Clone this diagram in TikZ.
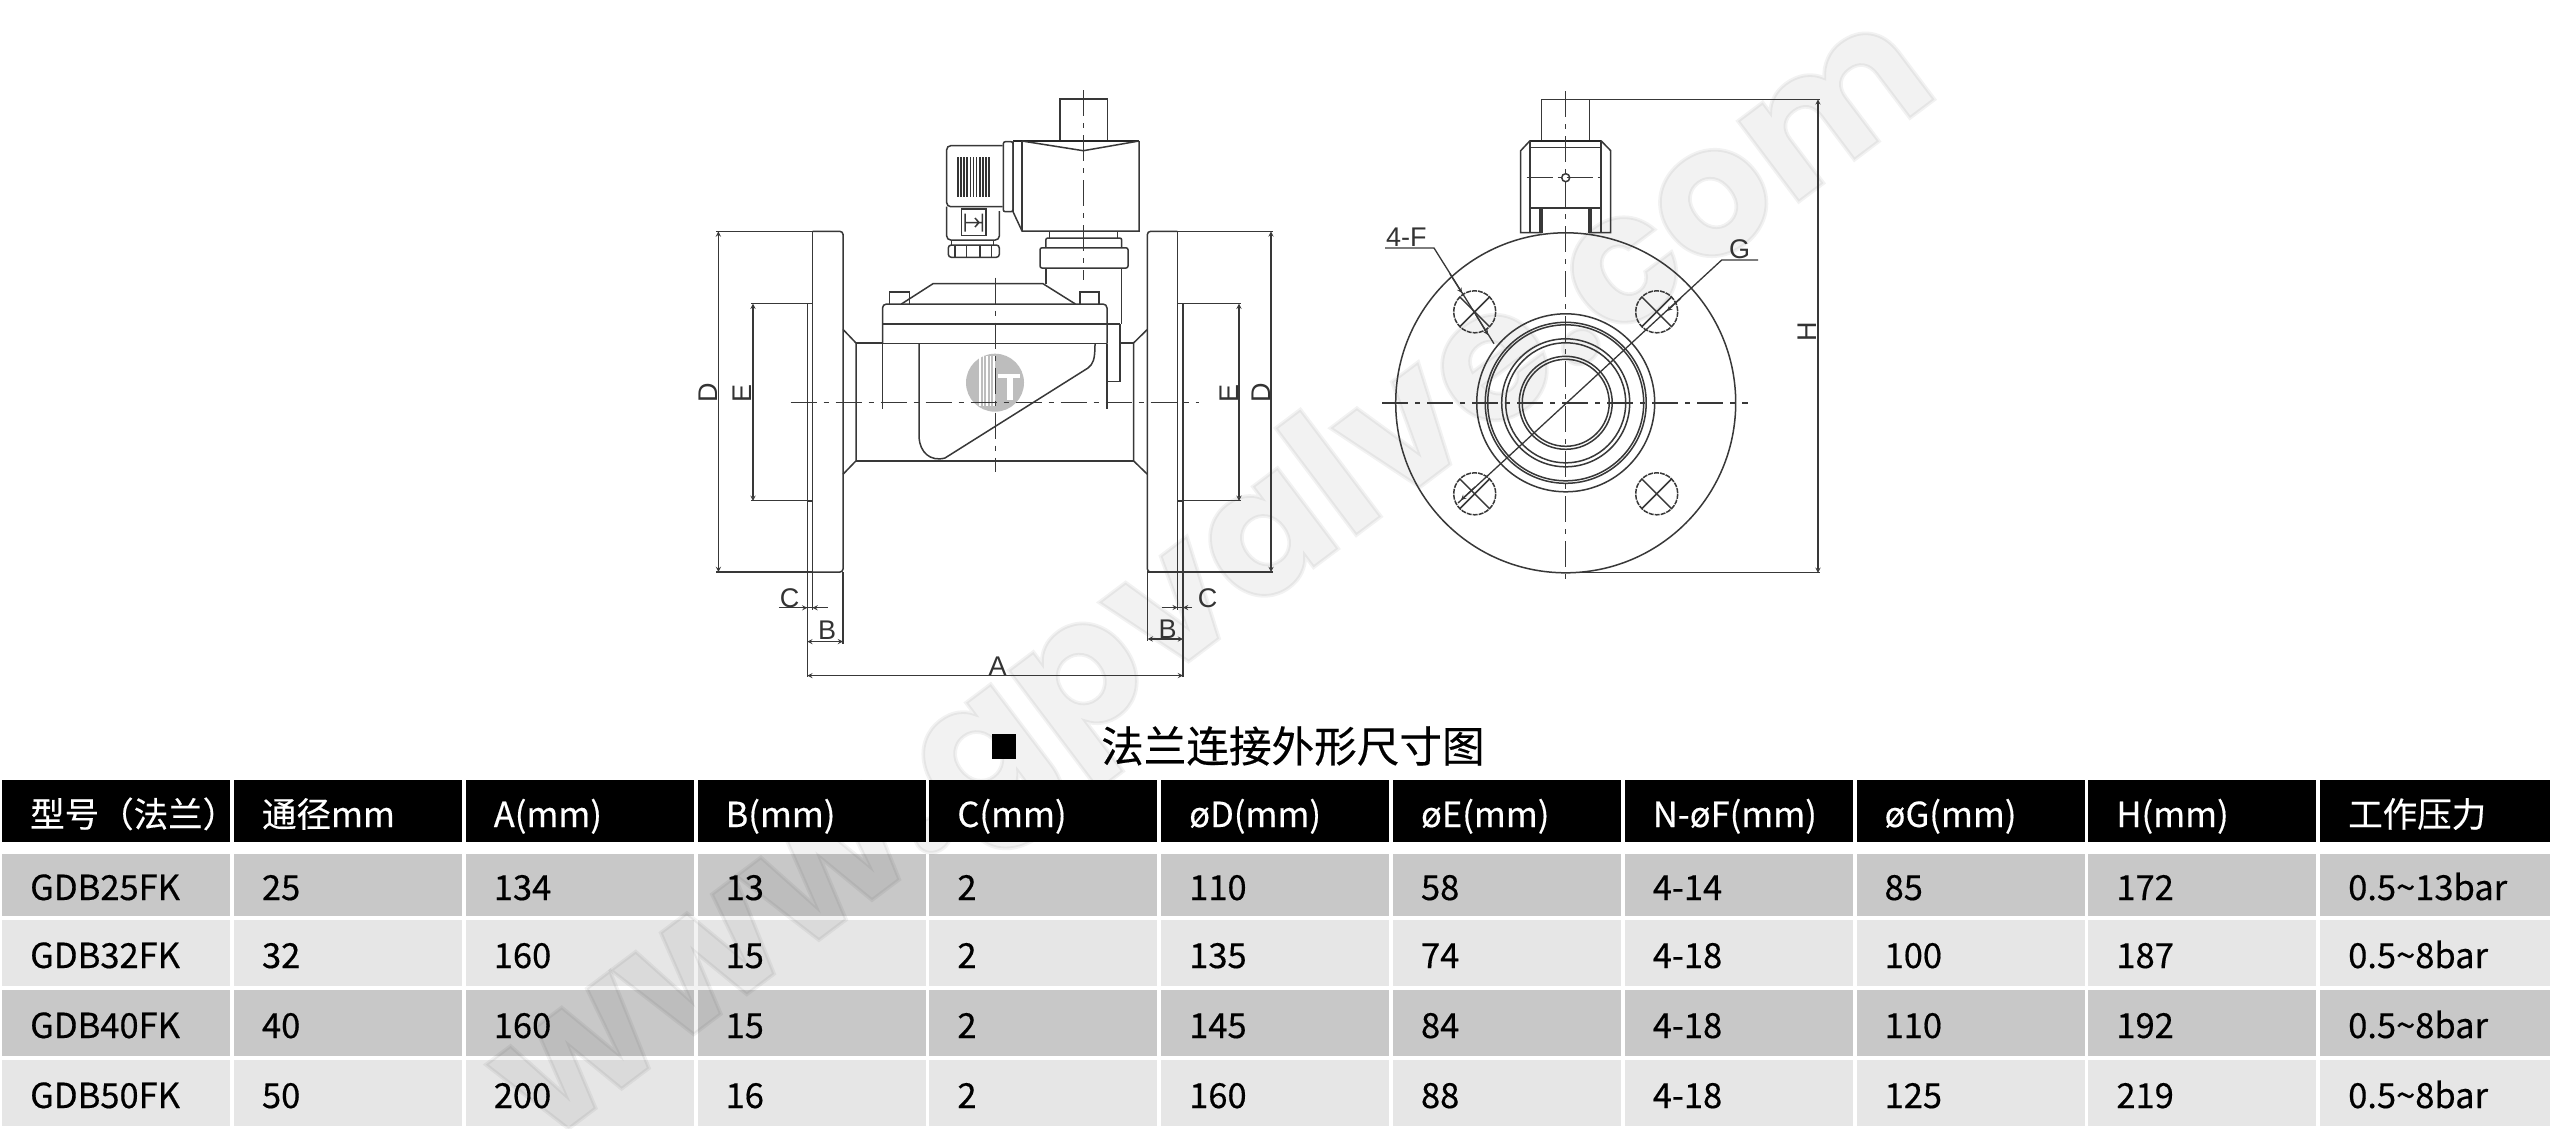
\documentclass[tikz,border=0pt]{standalone}
\usepackage{fontspec}
\setmainfont{Noto Sans CJK SC}
\newfontfamily\cellfont[FakeBold=0.4]{Noto Sans CJK SC}
\newfontfamily\drawfont{Liberation Sans}
\newfontfamily\markfont{Poppins}[BoldFont={* Bold}, BoldFeatures={FakeBold=2}]
\usetikzlibrary{arrows,positioning}

\definecolor{rowdark}{HTML}{C8C8C8}
\definecolor{rowlight}{HTML}{E6E6E6}
\definecolor{logogray}{HTML}{BDBDBD}

\tikzset{
  part/.style={draw=black!78, line width=1.5pt},
  thick part/.style={draw=black!85, line width=2pt},
  axis/.style={draw=black!78, line width=1.4pt, dash pattern=on 26pt off 7pt on 5pt off 7pt},
  dimline/.style={draw=black!78, line width=1.3pt},
  dimlabel/.style={font=\drawfont\fontsize{27}{27}\selectfont, text=black!80, inner sep=0pt},
  cell/.style={minimum height=#1, minimum width=228pt, inner sep=0pt, anchor=west},
  celltext/.style={font=\cellfont\fontsize{34.5}{34.5}\selectfont, inner sep=0pt, anchor=west, text height=24pt, text depth=0pt}
}

\begin{document}
\begin{tikzpicture}[x=1pt, y=-1pt, >=stealth]
\useasboundingbox (0,0) rectangle (2550,1128);
\fill [white] (0,0) rectangle (2550,1128);

% table cells
\foreach \r/\cy/\ch/\cf in {0/811/62/black, 1/885/62/rowdark, 2/953/66/rowlight, 3/1023/66/rowdark, 4/1093/66/rowlight}
  \foreach \c in {0,...,10} {
    \pgfmathsetmacro\cx{2+231.8*\c}
    \node [cell=\ch pt, fill=\cf] (cell-\r-\c) at (\cx,\cy) {};
  }
\fill [rowdark] (cell-1-10.north east) rectangle ++(4,62);
\fill [rowlight] (cell-2-10.north east) rectangle ++(4,66);
\fill [rowdark] (cell-3-10.north east) rectangle ++(4,66);
\fill [rowlight] (cell-4-10.north east) rectangle ++(4,66);
\fill [black] (cell-0-10.north east) rectangle ++(4,62);

% watermark
\node [font=\markfont\bfseries\fontsize{181}{181}\selectfont, text=black, opacity=.05, rotate=37, anchor=base east, inner sep=0pt] (mark) at (1943,93) {www.gpvalve.com};

% table text
\foreach \c/\t in {0/型号（法兰）, 1/通径mm, 2/A(mm), 3/B(mm), 4/C(mm), 5/øD(mm), 6/øE(mm), 7/N-øF(mm), 8/øG(mm), 9/H(mm), 10/工作压力}
  \node [celltext, text=white] (head-\c) at ([xshift=28pt, yshift=-4pt]cell-0-\c.west) {\t};

\foreach \r/\vals in {
  1/{GDB25FK,25,134,13,2,110,58,4-14,85,172,0.5\textasciitilde 13bar},
  2/{GDB32FK,32,160,15,2,135,74,4-18,100,187,0.5\textasciitilde 8bar},
  3/{GDB40FK,40,160,15,2,145,84,4-18,110,192,0.5\textasciitilde 8bar},
  4/{GDB50FK,50,200,16,2,160,88,4-18,125,219,0.5\textasciitilde 8bar}}
  \foreach \v [count=\c from 0] in \vals
    \node [celltext] (val-\r-\c) at ([xshift=28pt, yshift=-3pt]cell-\r-\c.west) {\v};

% title
\node [fill=black, minimum size=24.5pt, inner sep=0pt] (bullet) at (1003.8,746.6) {};
\node [anchor=west, inner sep=0pt, font=\cellfont\fontsize{42.6}{43}\selectfont] (title) at (1101,746) {法兰连接外形尺寸图};

% logo
\fill [logogray] (995,382.7) circle [radius=29];
\foreach \x in {979,982.5,986,989.5,993}
  \fill [white] (\x,356) rectangle ++(1.6,50);
\fill [white] (998,374) rectangle ++(22,4);
\fill [white] (1007,378) rectangle ++(6,22);

% left view: flanges
\draw [part, rounded corners=3pt] (812.5,231.4) -- (843,231.4) -- (843,572) -- (812.5,572);
\draw [part] (812.5,231.4) -- (812.5,572);
\draw [part] (812.5,303.7) -- (807.3,303.7) -- (807.3,500.8) -- (812.5,500.8);
\draw [part, rounded corners=3pt] (1177.4,231.4) -- (1147.4,231.4) -- (1147.4,572) -- (1177.4,572);
\draw [part] (1177.4,231.4) -- (1177.4,572);
\draw [part] (1177.4,303.7) -- (1183,303.7) -- (1183,500.8) -- (1177.4,500.8);

% pipe
\draw [part] (843,329.4) -- (856,343) -- (856,460.8) -- (843,474.3);
\draw [part] (1147.4,329.4) -- (1133.5,343) -- (1133.5,460.8) -- (1147.4,474.3);
\draw [part] (856,343) -- (882.5,343) (1120,343) -- (1133.5,343) (856,460.8) -- (1133.5,460.8);

% cover
\draw [part, rounded corners=4pt] (882.5,343.7) -- (882.5,304) -- (1107,304) -- (1107,343.7);
\draw [part] (882.5,324) -- (1120,324) (882.5,343.7) -- (1107,343.7);
\draw [part] (882.5,343.7) -- (882.5,409) (1107,343.7) -- (1107,409);
\draw [part] (901.4,304) -- (933,283.7) -- (1043,283.7) -- (1075.4,304);
\draw [part] (889.6,304) -- (889.6,291.8) -- (909.3,291.8) -- (909.3,304);
\draw [part] (1080,304) -- (1080,291.8) -- (1099,291.8) -- (1099,304);
\draw [part] (1107,381.6) -- (1120,381.6) -- (1120,324);
\draw [part] (919,343.7) -- (919,437.5) .. controls (920,452) and (930,462) .. (945,458) -- (1088,368) .. controls (1093,364) and (1095,360) .. (1095,343.7);

% neck and nut
\draw [part] (1045.8,283.7) -- (1045.8,268) (1121.7,268) -- (1121.7,324);
\draw [part, rounded corners=2pt] (1040,247.8) rectangle (1128,268);
\draw [part, rounded corners=2pt] (1045.8,247.8) -- (1045.8,238) -- (1121.7,238) -- (1121.7,247.8);
\draw [part, rounded corners=2pt] (1049.7,238) -- (1049.7,231) (1117.7,231) -- (1117.7,238);

% coil
\draw [part] (1060,141) -- (1060,99) -- (1107.7,99) -- (1107.7,141);
\draw [thick part] (1013,141) -- (1139,141);
\draw [part] (1013,141) -- (1013,211.7) -- (1022,231) -- (1139,231) -- (1139,141);
\draw [part] (1022,141) -- (1022,231);
\draw [part] (1022,141) -- (1083.3,150.7) -- (1139,141);

% connector
\draw [part, rounded corners=2pt] (1003.3,141.7) rectangle (1013,211.7);
\draw [part, rounded corners=4pt] (1002.7,145.7) -- (946.7,145.7) -- (946.7,206.7) -- (1002.7,206.7);
\draw [part, rounded corners=4pt] (946.7,206.7) -- (946.7,240) -- (999.3,240) -- (999.3,211);
\foreach \x in {958,961,964,967,970.5,973.5,976.5,980,983,986,989}
  \draw [draw=black!80, line width=1.7pt] (\x,157.3) -- (\x,196.7);
\draw [part] (961.7,209) rectangle (986,235.7);
\draw [part] (965,213.5) -- (965,231.5) (982.3,213.5) -- (982.3,231.5) (965,222.5) -- (982.3,222.5) (975,218) -- (979,222.5) -- (975,227);
\draw [part] (951.7,240) -- (951.7,245) (993.3,240) -- (993.3,245);
\draw [part, rounded corners=3pt] (948.3,245) rectangle (999.3,257.3);
\foreach \x in {955,966.7,980,991.7}
  \draw [part] (\x,245) -- (\x,257.3);

% left view: axes
\draw [axis] (790.7,402.4) -- (1198.8,402.4);
\draw [axis] (995.5,277.5) -- (995.5,472);
\draw [axis] (1083.3,90) -- (1083.3,280);

% left view: dimensions
\draw [dimline] (716,231.4) -- (812.5,231.4) (716,572) -- (812.5,572);
\draw [dimline, <->] (718.4,231.4) -- (718.4,572);
\node [dimlabel, rotate=90] (label-d1) at (708.5,393) {D};
\draw [dimline] (751,303.7) -- (807.3,303.7) (751,500.8) -- (807.3,500.8);
\draw [dimline, <->] (753,303.7) -- (753,500.8);
\node [dimlabel, rotate=90] (label-e1) at (742.5,393) {E};
\draw [dimline] (1177.4,231.4) -- (1273,231.4) (1147.4,572) -- (1273,572);
\draw [dimline, <->] (1271,231.4) -- (1271,572);
\node [dimlabel, rotate=90] (label-d2) at (1261,393) {D};
\draw [dimline] (1183,303.7) -- (1241,303.7) (1183,500.8) -- (1241,500.8);
\draw [dimline, <->] (1239,303.7) -- (1239,500.8);
\node [dimlabel, rotate=90] (label-e2) at (1229.6,393) {E};

\draw [dimline] (807.3,500.8) -- (807.3,677) (812.5,572) -- (812.5,610) (843,572) -- (843,644);
\draw [dimline] (1183,483) -- (1183,677) (1177.7,572) -- (1177.7,610) (1147.7,572) -- (1147.7,641);
\draw [dimline] (778.9,607.8) -- (828,607.8);
\draw [dimline, ->] (798,607.8) -- (807.3,607.8);
\draw [dimline, ->] (822,607.8) -- (812.5,607.8);
\node [dimlabel] (label-c1) at (789.5,598) {C};
\draw [dimline, <->] (807.3,641.6) -- (843,641.6);
\node [dimlabel] (label-b1) at (827,630) {B};
\draw [dimline] (1161.7,607.5) -- (1191.7,607.5);
\draw [dimline, ->] (1168,607.5) -- (1177.7,607.5);
\draw [dimline, ->] (1192,607.5) -- (1183,607.5);
\node [dimlabel] (label-c2) at (1207.7,598) {C};
\draw [dimline, <->] (1147.7,639) -- (1183,639);
\node [dimlabel] (label-b2) at (1167.7,629) {B};
\draw [dimline, <->] (807.3,675.6) -- (1183,675.6);
\node [dimlabel] (label-a) at (997.6,666) {A};

% right view: flange
\coordinate (hub) at (1565.7,402.8);
\draw [part] (hub) circle [radius=170];
\foreach \s/\t in {-1/-1, 1/-1, -1/1, 1/1} {
  \draw [part, dash pattern=on 5pt off 1pt] ([xshift=\s*91pt, yshift=\t*91pt]hub) circle [radius=21];
  \draw [part] ([xshift=\s*91pt-15pt, yshift=\t*91pt-15pt]hub) -- ++(30,-30)
     ([xshift=\s*91pt-15pt, yshift=\t*91pt+15pt]hub) -- ++(30,30);
}
\foreach \r in {89,80.5,78,64,60,46.5,43.5}
  \draw [part] (hub) circle [radius=\r];

% right view: top piece
\draw [part] (1541.7,140.7) -- (1541.7,99.3) -- (1589.3,99.3) -- (1589.3,140.7);
\draw [thick part] (1530,140.7) -- (1601,140.7);
\draw [part] (1530,147.3) -- (1601,147.3) (1530,208) -- (1601,208);
\draw [part] (1530,140.7) -- (1530,232) (1601,140.7) -- (1601,232);
\draw [part] (1530,140.7) -- (1520.7,150.7) -- (1520.7,232.7) -- (1541.7,232.7);
\draw [part] (1601,140.7) -- (1610.7,150.7) -- (1610.7,232.7) -- (1589.3,232.7);
\draw [part] (1540,208) -- (1540,232.7) (1542,208) -- (1542,232.7) (1589,208) -- (1589,232.7) (1591,208) -- (1591,232.7);
\draw [part] (1565.7,177.7) circle [radius=4];

% right view: axes
\draw [axis] (1382,402.8) -- (1748,402.8);
\draw [axis] (1565.7,91) -- (1565.7,584);
\draw [axis, dash pattern=on 26pt off 5pt on 4pt off 5pt] (1526.7,177.7) -- (1605,177.7);

% right view: dimensions
\draw [dimline] (1589.3,99.3) -- (1820,99.3) (1565.7,572.8) -- (1820,572.8);
\draw [dimline, <->] (1818,99.3) -- (1818,572.8);
\node [dimlabel, rotate=90] (label-h) at (1807,331.7) {H};

\node [dimlabel, anchor=south west] (label-f) at (1386,247) {4-F};
\draw [dimline] (1385,248) -- (1434,248) -- (1494,343.7);
\draw [dimline, ->] (1450,274) -- (1462,293);
\draw [dimline, ->] (1476,315) -- (1488,335);
\node [dimlabel, anchor=south west] (label-g) at (1729,259) {G};
\draw [dimline] (1758,260) -- (1721.7,260) -- (1458,503);
\draw [dimline, ->] (1681,298) -- (1667,311);
\draw [dimline, ->] (1475,487) -- (1461,500);
\end{tikzpicture}
\end{document}
